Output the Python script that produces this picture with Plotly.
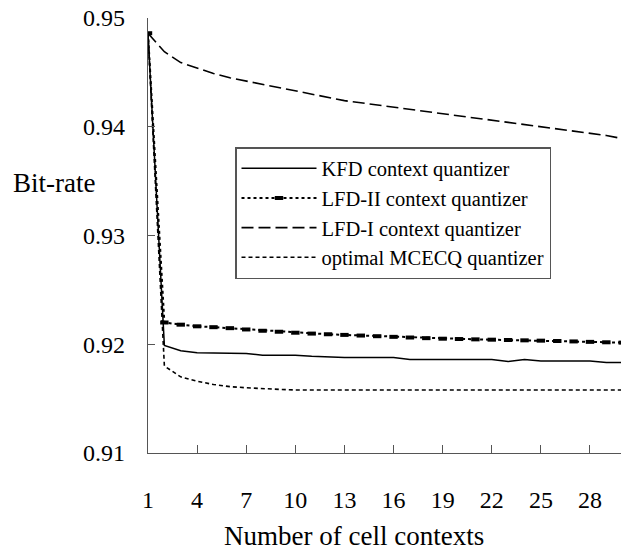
import plotly.graph_objects as go

contexts = list(range(1, 31))
x_tick_vals = [1, 4, 7, 10, 13, 16, 19, 22, 25, 28]
y_tick_vals = [0.91, 0.92, 0.93, 0.94, 0.95]

kfd = [0.9486, 0.9199, 0.9194, 0.91922, 0.9192, 0.9192, 0.91915, 0.9190, 0.9190, 0.9190,
       0.9189, 0.91882, 0.91878, 0.91878, 0.91878, 0.91878, 0.9186, 0.9186, 0.9186, 0.9186,
       0.9186, 0.9186, 0.91842, 0.9186, 0.91845, 0.91845, 0.91845, 0.91845, 0.91832, 0.91832]

lfd2 = [0.9486, 0.9220, 0.9218, 0.92165, 0.92157, 0.92148, 0.92136, 0.92124, 0.92115, 0.92106,
        0.92098, 0.92092, 0.92086, 0.9208, 0.92074, 0.92068, 0.92062, 0.92056, 0.92051, 0.92048,
        0.92045, 0.92042, 0.92039, 0.92036, 0.92033, 0.9203, 0.92026, 0.92022, 0.92018, 0.92015]

lfd1 = [0.9486, 0.9469, 0.9459, 0.9454, 0.9449, 0.9445, 0.9442, 0.9439, 0.9436, 0.9433,
        0.9430, 0.9427, 0.9424, 0.9422, 0.9420, 0.9418, 0.9416, 0.9414, 0.9412, 0.9410,
        0.9408, 0.9406, 0.9404, 0.9402, 0.9400, 0.9398, 0.9396, 0.9394, 0.9392, 0.9389]

mcecq = [0.9486, 0.9180, 0.9170, 0.9166, 0.9163, 0.9161, 0.9160, 0.9159, 0.91585, 0.9158,
         0.9158, 0.9158, 0.9158, 0.9158, 0.9158, 0.9158, 0.9158, 0.9158, 0.9158, 0.9158,
         0.9158, 0.9158, 0.9158, 0.9158, 0.9158, 0.9158, 0.9158, 0.9158, 0.9158, 0.9158]

FONT = "'Liberation Serif', 'Times New Roman', Times, serif"
W, H = 621, 550
ML, MR, MT, MB = 148, 0, 18, 550 - 453
PW, PH = W - ML - MR, H - MT - MB

def px_x(p):
    return (p - ML) / PW

def px_y(p):
    return (H - MB - p) / PH

fig = go.Figure()
fig.add_trace(go.Scatter(x=contexts, y=kfd, mode="lines", name="KFD context quantizer",
                         line=dict(color="black", width=1.5)))
fig.add_trace(go.Scatter(x=contexts, y=lfd2, mode="lines+markers", name="LFD-II context quantizer",
                         line=dict(color="black", width=2, dash="3px,3px"),
                         marker=dict(symbol="line-ew", size=6, color="black",
                                     line=dict(color="black", width=4))))
fig.add_trace(go.Scatter(x=contexts, y=lfd1, mode="lines", name="LFD-I context quantizer",
                         line=dict(color="black", width=1.6, dash="12px,5px")))
fig.add_trace(go.Scatter(x=contexts, y=mcecq, mode="lines", name="optimal MCECQ quantizer",
                         line=dict(color="black", width=1.6, dash="4px,3px")))

axis_col = "#555555"
fig.update_layout(
    template="none",
    width=W, height=H,
    margin=dict(l=ML, r=MR, t=MT, b=MB, autoexpand=False),
    plot_bgcolor="white", paper_bgcolor="white",
    font=dict(family=FONT, color="black"),
    showlegend=True,
    legend=dict(
        x=px_x(235), y=px_y(147), xanchor="left", yanchor="top",
        bgcolor="white", bordercolor=axis_col, borderwidth=1.5,
        font=dict(family=FONT, size=20.5, color="black"),
        itemwidth=75, tracegroupgap=0,
    ),
    xaxis=dict(
        range=[1, 1 + PW / 16.37], tickmode="array", tickvals=x_tick_vals,
        ticktext=[str(v) for v in x_tick_vals], automargin=False,
        showline=True, linecolor=axis_col, linewidth=1.3,
        ticks="inside", ticklen=8, tickcolor=axis_col, tickwidth=1.3,
        showgrid=False, zeroline=False,
        tickfont=dict(family=FONT, size=24, color="black"),
        ticklabelstandoff=25, ticklabeloverflow="allow",
    ),
    yaxis=dict(
        range=[0.91, 0.95], tickmode="array", tickvals=y_tick_vals,
        ticktext=["%.2f" % v for v in y_tick_vals], automargin=False,
        showline=True, linecolor=axis_col, linewidth=1.3,
        ticks="inside", ticklen=7, tickcolor=axis_col, tickwidth=1.3,
        showgrid=False, zeroline=False,
        tickfont=dict(family=FONT, size=24, color="black"),
        ticklabelstandoff=17, ticklabeloverflow="allow",
    ),
    annotations=[
        dict(text="Bit-rate", xref="paper", yref="paper", x=px_x(54), y=px_y(183),
             xanchor="center", yanchor="middle", showarrow=False,
             font=dict(family=FONT, size=27, color="black")),
        dict(text="Number of cell contexts", xref="paper", yref="paper",
             x=px_x(353.5), y=px_y(536), xanchor="center", yanchor="middle",
             showarrow=False, font=dict(family=FONT, size=27, color="black")),
    ],
)

fig.write_html(
    "out.html",
    config={"displayModeBar": False},
    post_script="document.body.style.margin='0';document.body.style.overflow='hidden';",
)
